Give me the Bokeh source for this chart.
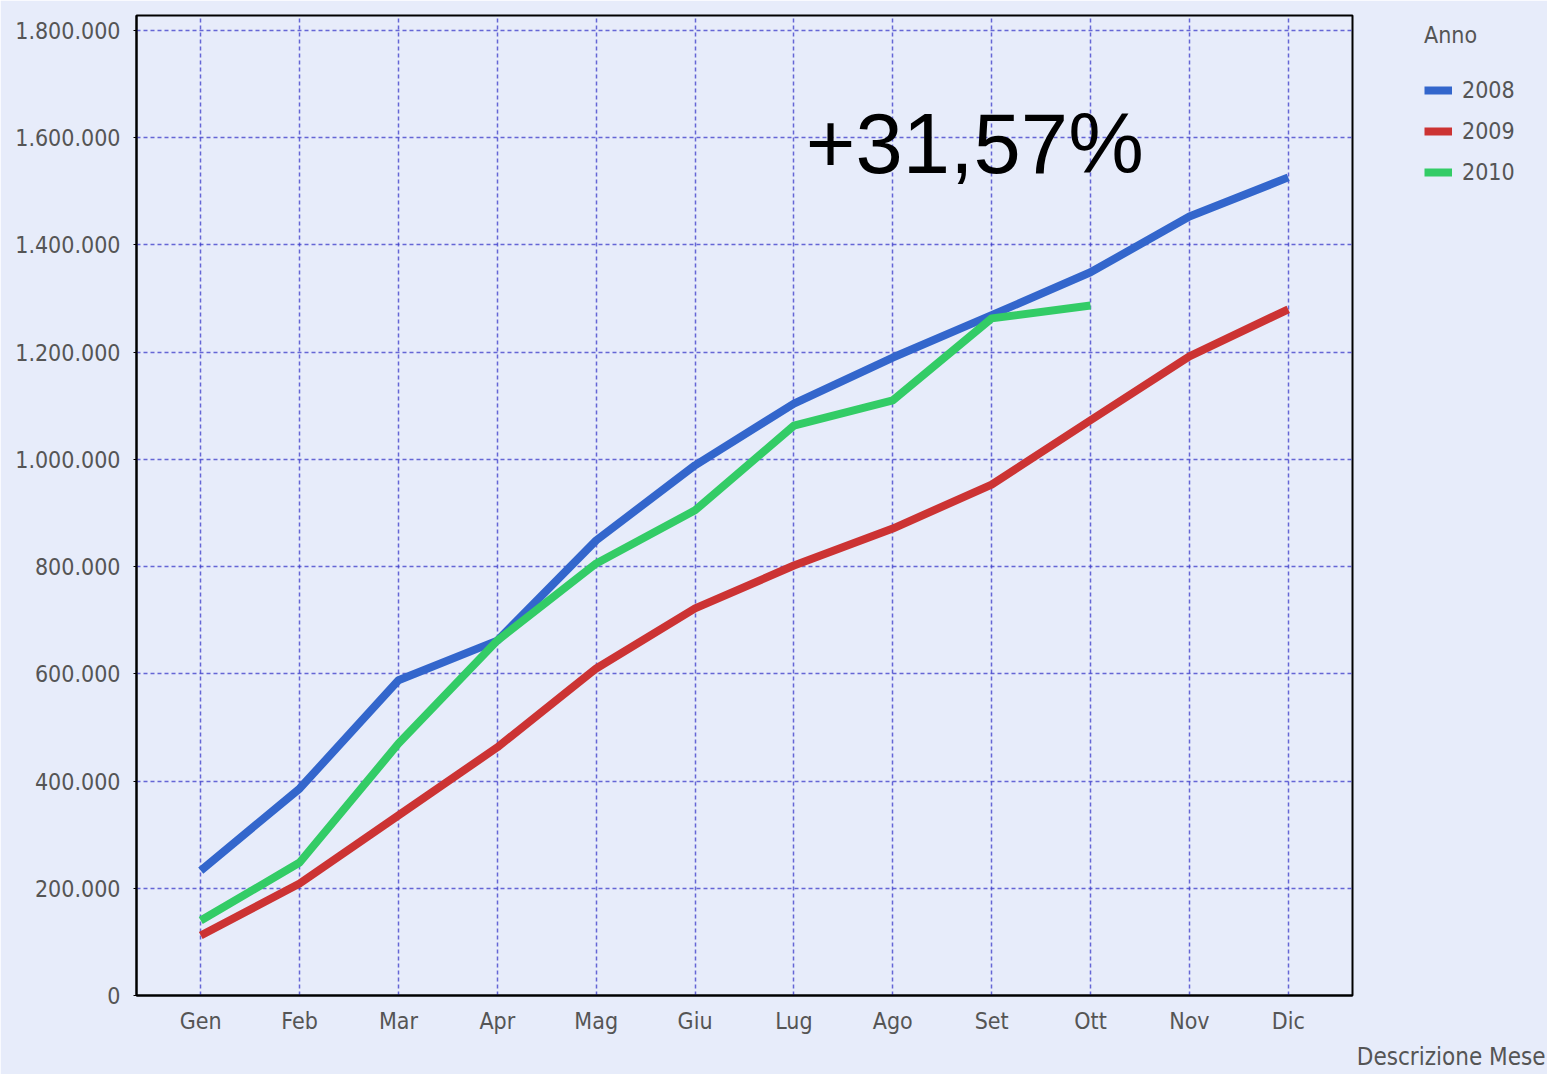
from bokeh.plotting import figure
from bokeh.models import Range1d, FixedTicker, Legend, LegendItem, Label, Title
from bokeh.embed import file_html
from bokeh.resources import INLINE

months = ["Gen", "Feb", "Mar", "Apr", "Mag", "Giu", "Lug", "Ago", "Set", "Ott", "Nov", "Dic"]
values_2008 = [233000, 386000, 588000, 662000, 849000, 989000, 1104000, 1190000, 1269000, 1349000, 1453000, 1526000]
values_2009 = [112000, 209000, 336000, 463000, 610000, 722000, 802000, 871000, 953000, 1073000, 1192000, 1280000]
values_2010 = [140000, 248000, 470000, 662000, 806000, 905000, 1063000, 1110000, 1263000, 1287000]
y_ticks = [0, 200000, 400000, 600000, 800000, 1000000, 1200000, 1400000, 1600000, 1800000]
y_labels = ["0", "200.000", "400.000", "600.000", "800.000", "1.000.000", "1.200.000", "1.400.000", "1.600.000", "1.800.000"]
series_names = ["2008", "2009", "2010"]
annotation_text = "+31,57%"
x_axis_title = "Descrizione Mese"

BG = "#e7ecfa"
FONT = "DejaVu Sans Condensed"
FS = "23px"
TXT = "#555555"

p = figure(frame_width=1216, frame_height=980,
           min_border_left=136, min_border_top=15, min_border_right=195, min_border_bottom=79,
           x_range=Range1d(-0.65, 11.65), y_range=Range1d(0, 1828000),
           output_backend="svg", toolbar_location=None)
p.background_fill_color = BG
p.border_fill_color = BG
p.outline_line_color = "black"
p.outline_line_width = 2

xs = list(range(len(months)))
colors = ["#3366cc", "#cc3333", "#33cc66"]
renderers = []
for vals, c in zip([values_2008, values_2009, values_2010], colors):
    r = p.line(xs[:len(vals)], vals, line_color=c, line_width=8, line_join="round")
    renderers.append(r)

p.xaxis.ticker = FixedTicker(ticks=xs)
p.xaxis.major_label_overrides = {i: m for i, m in enumerate(months)}
p.yaxis.ticker = FixedTicker(ticks=y_ticks)
p.yaxis.major_label_overrides = {t: l for t, l in zip(y_ticks, y_labels)}

for ax in (p.xaxis, p.yaxis):
    ax.axis_line_color = "black"
    ax.axis_line_width = 2
    ax.major_label_text_font = FONT
    ax.major_label_text_font_size = FS
    ax.major_label_text_color = TXT
    ax.minor_tick_line_color = None
p.xaxis.major_tick_line_color = None
p.xaxis.major_label_standoff = 6
p.yaxis.major_tick_line_color = "black"
p.yaxis.major_tick_out = 3
p.yaxis.major_tick_in = 0
p.yaxis.major_label_standoff = 13

for g in (p.xgrid, p.ygrid):
    g.grid_line_color = "#3a3ac8"
    g.grid_line_alpha = 0.75
    g.grid_line_dash = "4 3"
    g.grid_line_width = 1.5

p.add_layout(Label(x=6.12, y=1589000, text=annotation_text, text_font="Liberation Sans",
                   text_font_size="85px", text_color="black", text_baseline="alphabetic"))

p.add_layout(Title(text=x_axis_title, align="right", offset=-193, standoff=8,
                   text_font=FONT, text_font_size="24px", text_color=TXT, text_font_style="normal"), "below")

legend = Legend(items=[LegendItem(label=n, renderers=[r]) for n, r in zip(series_names, renderers)],
                title="Anno", location=(72, 810), orientation="vertical",
                title_text_font=FONT, title_text_font_size=FS, title_text_color=TXT,
                title_text_font_style="normal", title_standoff=29,
                label_text_font=FONT, label_text_font_size=FS, label_text_color=TXT,
                glyph_width=28, glyph_height=20, label_height=20, spacing=15, label_standoff=10,
                padding=0, margin=0, background_fill_alpha=0, border_line_alpha=0)
p.add_layout(legend, "right")

open("out.html", "w").write(file_html(p, INLINE))
